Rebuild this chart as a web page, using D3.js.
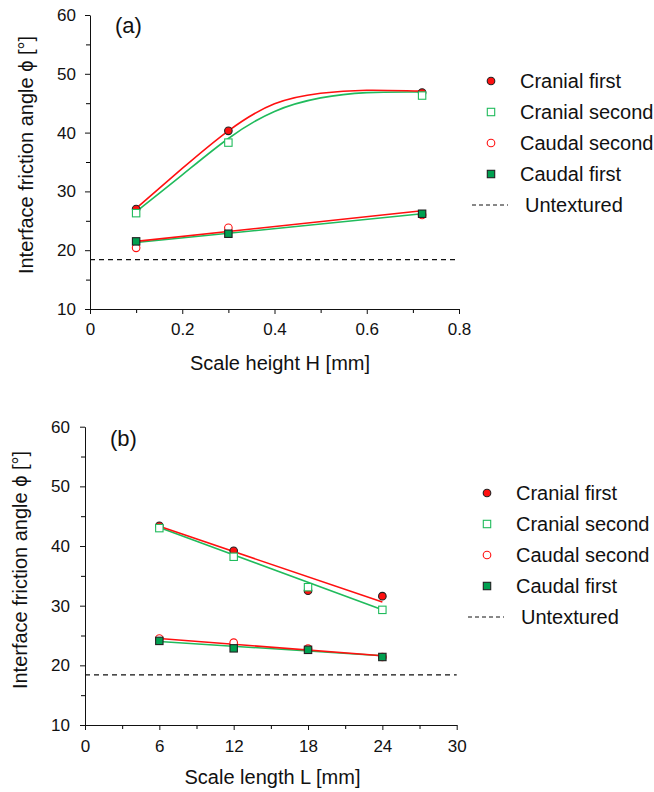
<!DOCTYPE html>
<html>
<head>
<meta charset="utf-8">
<script src="https://cdn.jsdelivr.net/npm/d3@7"></script>
<style>
  body { margin: 0; background: #fff; }
  svg text { font-family: "Liberation Sans", Arial, sans-serif; fill: #111; }
</style>
</head>
<body>
<svg id="chart" width="654" height="792"></svg>
<script>
// ---- panel (a) data: scale height H [mm]
const heightH = [0.1, 0.3, 0.72];
const aCranialFirst = [27.0, 40.3, 46.8];
const aCranialSecond = [26.3, 38.3, 46.3];
const aCaudalSecond = [20.4, 23.8, 26.0];
const aCaudalFirst = [21.5, 22.8, 26.2];
// fitted curves
const aFitX = [0.1, 0.2, 0.3, 0.4, 0.5, 0.6, 0.72];
const aFitCranialFirst = [27.1, 33.9, 40.3, 44.9, 46.7, 47.2, 47.05];
const aFitCranialSecond = [26.55, 32.8, 39.0, 43.6, 45.9, 46.8, 46.9];
const aFitLowX = [0.1, 0.72];
const aFitCaudalSecond = [21.5, 26.7];
const aFitCaudalFirst = [21.3, 26.2];

// ---- panel (b) data: scale length L [mm]
const lengthL = [6, 12, 18, 24];
const bCranialFirst = [43.4, 39.2, 32.5, 31.6];
const bCranialSecond = [43.0, 38.2, 33.1, 29.3];
const bCaudalSecond = [24.5, 23.8, 22.8, 21.4];
const bCaudalFirst = [24.1, 22.85, 22.6, 21.4];
const bFitX = [6, 24];
const bFitCranialFirst = [43.3, 30.6];
const bFitCranialSecond = [43.1, 29.3];
const bFitCaudalSecond = [24.5, 21.6];
const bFitCaudalFirst = [24.0, 21.6];

const untextured = 18.4;
const yTicks = [10, 20, 30, 40, 50, 60];
const aXTicks = [0, 0.2, 0.4, 0.6, 0.8];
const bXTicks = [0, 6, 12, 18, 24, 30];
const legendNames = ["Cranial first", "Cranial second", "Caudal second", "Caudal first", "Untextured"];

const RED = "#ff1010", GREEN = "#20bb5c", DGREEN = "#00a050";

const svg = d3.select("#chart");

function drawPanel(opt) {
    const g = svg.append("g");
    const x = d3.scaleLinear().domain(opt.xDomain).range(opt.xRange);
    const y = d3.scaleLinear().domain([10, 60]).range(opt.yRange);

    // minor ticks
    g.append("g")
        .attr("transform", "translate(0," + opt.yRange[0] + ")")
        .call(d3.axisBottom(x).tickValues(opt.xMinor).tickSize(4).tickFormat(""))
        .call(a => a.select(".domain").remove());
    g.append("g")
        .attr("transform", "translate(" + opt.xRange[0] + ",0)")
        .call(d3.axisLeft(y).tickValues(d3.range(15, 60, 10)).tickSize(4).tickFormat(""))
        .call(a => a.select(".domain").remove());

    // major axes
    const xa = g.append("g")
        .attr("transform", "translate(0," + opt.yRange[0] + ")")
        .call(d3.axisBottom(x).tickValues(opt.xTicks).tickSize(5).tickSizeOuter(0).tickPadding(opt.xPad)
            .tickFormat(d => String(d)));
    const ya = g.append("g")
        .attr("transform", "translate(" + opt.xRange[0] + ",0)")
        .call(d3.axisLeft(y).tickValues(yTicks).tickSize(5).tickSizeOuter(0).tickPadding(opt.yPad));
    [xa, ya].forEach(a => {
        a.selectAll("text").style("font-size", "17px").attr("fill", "#111");
        a.selectAll("line, path").attr("stroke", "#111");
    });

    // untextured reference
    g.append("line")
        .attr("x1", x(opt.xDomain[0])).attr("x2", x(opt.xDomain[1]))
        .attr("y1", y(untextured)).attr("y2", y(untextured))
        .attr("stroke", "#111").attr("stroke-width", 1.2).attr("stroke-dasharray", "5,4");

    // fitted lines
    opt.fits.forEach(f => {
        const line = d3.line().x(d => x(d[0])).y(d => y(d[1])).curve(d3.curveNatural);
        g.append("path")
            .datum(d3.zip(f.xs, f.ys))
            .attr("d", line)
            .attr("fill", "none").attr("stroke", f.color).attr("stroke-width", 1.6);
    });

    // markers
    opt.series.forEach(s => {
        const pts = d3.zip(opt.xs, s.ys);
        drawMarkers(g, pts.map(p => [x(p[0]), y(p[1])]), s.kind);
    });

    // panel label
    g.append("text").attr("x", opt.label[1]).attr("y", opt.label[2])
        .style("font-size", "22px").text(opt.label[0]);

    // axis titles
    g.append("text")
        .attr("x", opt.xTitleX).attr("y", opt.xTitleY)
        .attr("text-anchor", "middle").style("font-size", "20px").text(opt.xTitle);
    g.append("text")
        .attr("transform", "translate(" + opt.yTitleX + "," + opt.yTitleMid + ") rotate(-90)")
        .attr("text-anchor", "middle").style("font-size", "20px").text("Interface friction angle \u03d5 [\u00b0]");

    // legend
    const lg = g.append("g").attr("transform", "translate(" + opt.legend[0] + "," + opt.legend[1] + ")");
    const kinds = ["cf", "cs", "ds", "df"];
    legendNames.forEach((name, i) => {
        const ry = i * 31;
        if (i < 4) {
            drawMarkers(lg, [[0, ry]], kinds[i]);
            lg.append("text").attr("x", 29).attr("y", ry + 7).style("font-size", "20px").text(name);
        } else {
            lg.append("line").attr("x1", -19).attr("x2", 17).attr("y1", ry).attr("y2", ry)
                .attr("stroke", "#111").attr("stroke-width", 1).attr("stroke-dasharray", "4,3");
            lg.append("text").attr("x", 34).attr("y", ry + 7).style("font-size", "20px").text(name);
        }
    });
}

function drawMarkers(g, pts, kind) {
    if (kind === "cf" || kind === "ds") {
        g.selectAll(null).data(pts).enter().append("circle")
            .attr("cx", d => d[0]).attr("cy", d => d[1]).attr("r", 3.8)
            .attr("fill", kind === "cf" ? RED : "#fff")
            .attr("stroke", kind === "cf" ? "#222" : RED).attr("stroke-width", 1.1);
    } else {
        g.selectAll(null).data(pts).enter().append("rect")
            .attr("x", d => d[0] - 3.7).attr("y", d => d[1] - 3.7)
            .attr("width", 7.4).attr("height", 7.4)
            .attr("fill", kind === "df" ? DGREEN : "#fff")
            .attr("stroke", kind === "df" ? "#222" : GREEN).attr("stroke-width", 1.1);
    }
}

drawPanel({
    xDomain: [0, 0.8], xRange: [90, 459], yRange: [309, 15],
    xTicks: aXTicks, xMinor: [0.1, 0.3, 0.5, 0.7], xPad: 9, yPad: 9,
    xs: heightH,
    series: [
        {ys: aCranialFirst, kind: "cf"},
        {ys: aCranialSecond, kind: "cs"},
        {ys: aCaudalSecond, kind: "ds"},
        {ys: aCaudalFirst, kind: "df"}
    ],
    fits: [
        {xs: aFitX, ys: aFitCranialSecond, color: GREEN},
        {xs: aFitX, ys: aFitCranialFirst, color: RED},
        {xs: aFitLowX, ys: aFitCaudalFirst, color: GREEN},
        {xs: aFitLowX, ys: aFitCaudalSecond, color: RED}
    ],
    label: ["(a)", 115, 33],
    xTitle: "Scale height H [mm]", xTitleX: 280, xTitleY: 370,
    yTitleX: 33, yTitleMid: 155,
    legend: [491, 81]
});

drawPanel({
    xDomain: [0, 30], xRange: [85, 456.7], yRange: [725, 426.7],
    xTicks: bXTicks, xMinor: [3, 9, 15, 21, 27], xPad: 10, yPad: 10,
    xs: lengthL,
    series: [
        {ys: bCranialFirst, kind: "cf"},
        {ys: bCranialSecond, kind: "cs"},
        {ys: bCaudalSecond, kind: "ds"},
        {ys: bCaudalFirst, kind: "df"}
    ],
    fits: [
        {xs: bFitX, ys: bFitCranialSecond, color: GREEN},
        {xs: bFitX, ys: bFitCranialFirst, color: RED},
        {xs: bFitX, ys: bFitCaudalFirst, color: GREEN},
        {xs: bFitX, ys: bFitCaudalSecond, color: RED}
    ],
    label: ["(b)", 110, 446],
    xTitle: "Scale length L [mm]", xTitleX: 272.5, xTitleY: 784,
    yTitleX: 27, yTitleMid: 570,
    legend: [487, 493]
});
</script>
</body>
</html>
